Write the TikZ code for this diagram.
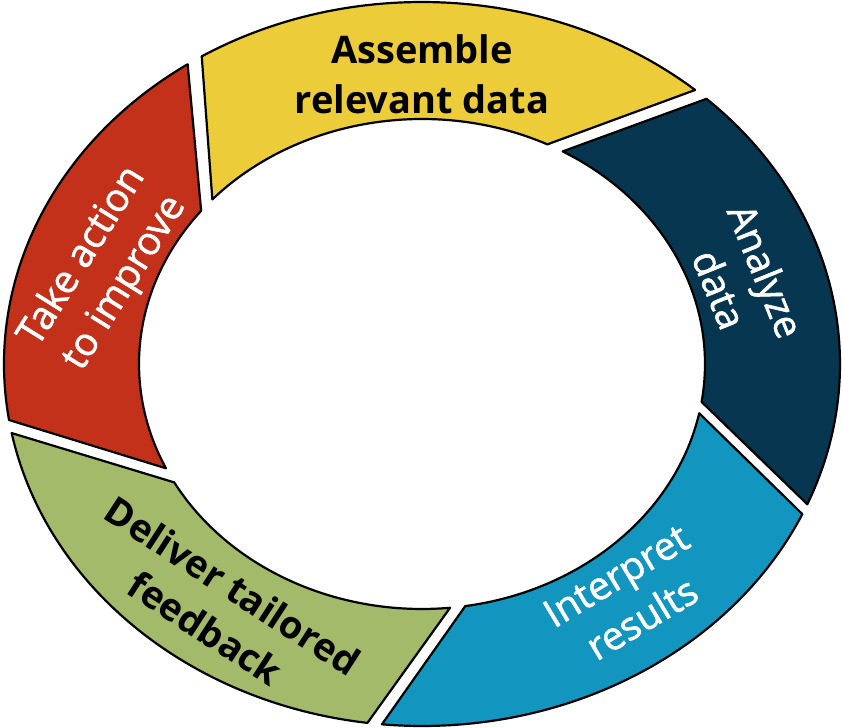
\documentclass[tikz,border=0pt]{standalone}
\usepackage{fontspec}
\setmainfont{Open Sans}
\newfontfamily\semifont[FakeBold=1.4]{Open Sans}
\usepackage{tikz}

\definecolor{segyellow}{HTML}{EDCC3A}
\definecolor{segnavy}{HTML}{073750}
\definecolor{segblue}{HTML}{1296C0}
\definecolor{seggreen}{HTML}{A3BA6B}
\definecolor{segred}{HTML}{C3311A}

\tikzset{
  seg/.style={draw=black,line width=1.1pt,line join=round},
  lbl/.style={align=center,inner sep=0pt},
  lbldark/.style={lbl,font=\fontsize{19}{25}\selectfont\bfseries,text=black},
  lbllight/.style={lbl,font=\semifont\fontsize{19.5}{25}\selectfont,text=white}
}

\begin{document}
\begin{tikzpicture}
\useasboundingbox (-211pt,-182pt) rectangle (210.5pt,182pt);
% outer ellipse 209pt x 181pt, inner ellipse 141.5pt x 122.5pt
\filldraw[seg,fill=segyellow] (121.8:209pt and 181pt) arc[start angle=121.8,end angle=49.2,x radius=209pt,y radius=181pt]
  -- (63.7:141.5pt and 122.5pt) arc[start angle=63.7,end angle=137.8,x radius=141.5pt,y radius=122.5pt] -- cycle;
\filldraw[seg,fill=segnavy] (47.1:209pt and 181pt) arc[start angle=47.1,end angle=-22.8,x radius=209pt,y radius=181pt]
  -- (-8.9:141.5pt and 122.5pt) arc[start angle=-8.9,end angle=60.2,x radius=141.5pt,y radius=122.5pt] -- cycle;
\filldraw[seg,fill=segblue] (-24.5:209pt and 181pt) arc[start angle=-24.5,end angle=-95.5,x radius=209pt,y radius=181pt]
  -- (-81.2:141.5pt and 122.5pt) arc[start angle=-81.2,end angle=-11.6,x radius=141.5pt,y radius=122.5pt] -- cycle;
\filldraw[seg,fill=seggreen] (-97.5:209pt and 181pt) arc[start angle=-97.5,end angle=-169,x radius=209pt,y radius=181pt]
  -- (-151.1:141.5pt and 122.5pt) arc[start angle=-151.1,end angle=-84.3,x radius=141.5pt,y radius=122.5pt] -- cycle;
\filldraw[seg,fill=segred] (188.9:209pt and 181pt) arc[start angle=188.9,end angle=124.1,x radius=209pt,y radius=181pt]
  -- (141.3:141.5pt and 122.5pt) arc[start angle=141.3,end angle=205.2,x radius=141.5pt,y radius=122.5pt] -- cycle;
% labels
\node[lbldark] (assemble) at (0pt,145pt) {Assemble\\relevant data};
\node[lbllight,rotate=-68] (analyze) at (160.5pt,42pt) {Analyze\\data};
\node[lbllight,rotate=31] (interpret) at (103.5pt,-116.5pt) {Interpret\\results};
\node[lbldark,rotate=-33] (deliver) at (-101.5pt,-121.5pt) {Deliver tailored\\feedback};
\node[lbllight,rotate=58] (takeaction) at (-159pt,47pt) {Take action\\to improve};
\end{tikzpicture}
\end{document}
